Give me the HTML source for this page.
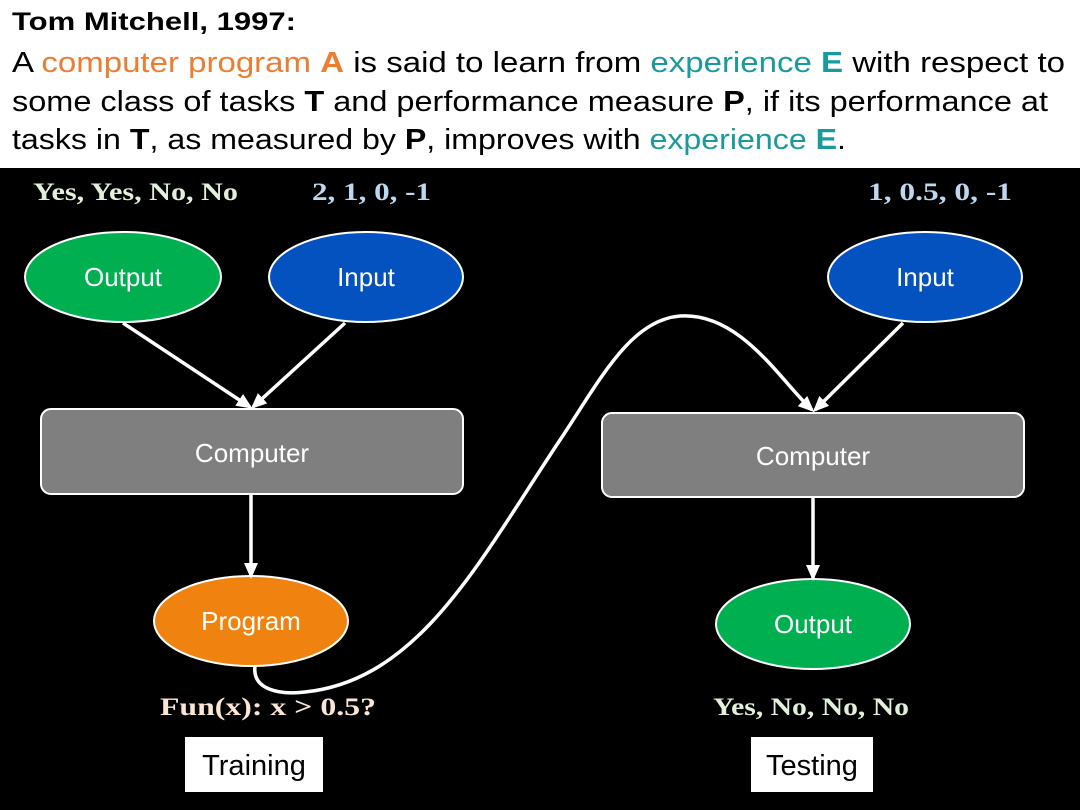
<!DOCTYPE html>
<html><head><style>
body{margin:0;width:1080px;height:810px;overflow:hidden;background:#000}
svg{display:block}
</style></head><body>
<svg width="1080" height="810" xmlns="http://www.w3.org/2000/svg">
<defs>
<marker id="ah" markerWidth="16" markerHeight="14" refX="13" refY="7" orient="auto" markerUnits="userSpaceOnUse">
<path d="M0,0 L16,7 L0,14 Z" fill="#fff"/>
</marker>
</defs>
<rect x="0" y="0" width="1080" height="168" fill="#fff"/>
<rect x="0" y="168" width="1080" height="642" fill="#000"/>
<g font-family="Liberation Sans, sans-serif" fill="#000">
<text x="12" y="30" font-size="25" font-weight="bold" textLength="284" lengthAdjust="spacingAndGlyphs">Tom Mitchell, 1997:</text>
<text x="12" y="72" font-size="29" textLength="1053" lengthAdjust="spacingAndGlyphs">A <tspan fill="#ed7d31">computer program</tspan> <tspan fill="#ed7d31" font-weight="bold">A</tspan> is said to learn from <tspan fill="#1a9a9a">experience</tspan> <tspan fill="#1a9a9a" font-weight="bold">E</tspan> with respect to</text>
<text x="12" y="111" font-size="29" textLength="1036" lengthAdjust="spacingAndGlyphs">some class of tasks <tspan font-weight="bold">T</tspan> and performance measure <tspan font-weight="bold">P</tspan>, if its performance at</text>
<text x="12" y="149" font-size="29" textLength="834" lengthAdjust="spacingAndGlyphs">tasks in <tspan font-weight="bold">T</tspan>, as measured by <tspan font-weight="bold">P</tspan>, improves with <tspan fill="#1a9a9a">experience</tspan> <tspan fill="#1a9a9a" font-weight="bold">E</tspan>.</text>
</g>
<g font-family="Liberation Serif, serif" font-weight="bold" font-size="25">
<text x="33" y="200" fill="#e2efd9" textLength="205" lengthAdjust="spacingAndGlyphs">Yes, Yes, No, No</text>
<text x="312" y="200" fill="#bdd7ee" textLength="119" lengthAdjust="spacingAndGlyphs">2, 1, 0, -1</text>
<text x="868" y="200" fill="#bdd7ee" textLength="144" lengthAdjust="spacingAndGlyphs">1, 0.5, 0, -1</text>
<text x="713" y="715" fill="#e2efd9" textLength="196" lengthAdjust="spacingAndGlyphs">Yes, No, No, No</text>
<text x="160" y="715" fill="#fbe5d6" textLength="216" lengthAdjust="spacingAndGlyphs">Fun(x): x &gt; 0.5?</text>
</g>
<g stroke="#fff" stroke-width="2">
<ellipse cx="123" cy="277" rx="98" ry="45" fill="#00b050"/>
<ellipse cx="366" cy="277" rx="97" ry="45" fill="#0451c0"/>
<ellipse cx="925" cy="277" rx="97" ry="45" fill="#0451c0"/>
<rect x="41" y="409" width="422" height="85" rx="10" fill="#7f7f7f"/>
<rect x="602" y="413" width="422" height="84" rx="10" fill="#7f7f7f"/>
<ellipse cx="251" cy="621" rx="97" ry="45" fill="#f0820f"/>
<ellipse cx="813" cy="624" rx="97" ry="45" fill="#00b050"/>
</g>
<g stroke="#fff" stroke-width="3.5" fill="none" marker-end="url(#ah)">
<line x1="123" y1="323" x2="250" y2="407"/>
<line x1="345" y1="323" x2="253" y2="407"/>
<line x1="251" y1="495" x2="251" y2="576"/>
<line x1="903" y1="323" x2="815" y2="410"/>
<line x1="813" y1="498" x2="813" y2="578"/>
<path d="M255,666 C252,690 280,695 305,692 C420,680 480,560 560,440 C600,380 630,320 680,316 C740,312 780,380 812,410"/>
</g>
<g font-family="Liberation Sans, sans-serif" font-size="26" fill="#fff" text-anchor="middle">
<text x="123" y="286">Output</text>
<text x="366" y="286">Input</text>
<text x="925" y="286">Input</text>
<text x="252" y="462">Computer</text>
<text x="813" y="465">Computer</text>
<text x="251" y="630">Program</text>
<text x="813" y="633">Output</text>
</g>
<rect x="185" y="737" width="138" height="55" fill="#fff"/>
<rect x="751" y="737" width="122" height="55" fill="#fff"/>
<g font-family="Liberation Sans, sans-serif" font-size="29" fill="#000" text-anchor="middle">
<text x="254" y="775">Training</text>
<text x="812" y="775">Testing</text>
</g>
</svg>
</body></html>
